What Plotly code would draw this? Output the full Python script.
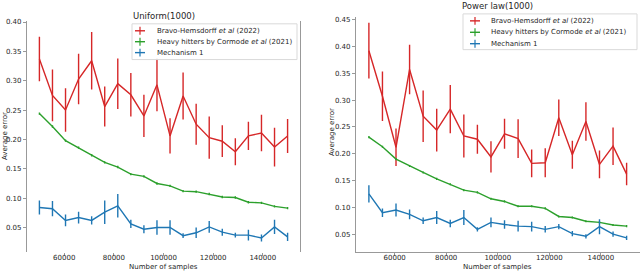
import plotly.graph_objects as go

W, H = 640, 271

# ---------------- data ----------------
samples = [50000, 55263, 60526, 65789, 71053, 76316, 81579, 86842, 92105, 97368,
           102632, 107895, 113158, 118421, 123684, 128947, 134211, 139474, 144737, 150000]

series_names = ["Bravo-Hemsdorff <i>et al</i> (2022)",
                "Heavy hitters by Cormode <i>et al</i> (2021)",
                "Mechanism 1"]
series_colors = ["#d62728", "#2ca02c", "#1f77b4"]

panel_titles = ["Uniform(1000)", "Power law(1000)"]
x_title = "Number of samples"
y_title = "Average error"

x_ticks = [60000, 80000, 100000, 120000, 140000]
y_ticks_uniform = [0.05, 0.10, 0.15, 0.20, 0.25, 0.30, 0.35, 0.40]
y_ticks_power = [0.05, 0.10, 0.15, 0.20, 0.25, 0.30, 0.35, 0.40, 0.45]

# Uniform(1000)
uni_bravo = [0.337, 0.275, 0.250, 0.303, 0.334, 0.256, 0.295, 0.276, 0.240, 0.293,
             0.206, 0.274, 0.226, 0.203, 0.197, 0.179, 0.206, 0.211, 0.187, 0.206]
uni_bravo_err = [0.038, 0.044, 0.037, 0.043, 0.049, 0.034, 0.043, 0.037, 0.036, 0.045,
                 0.030, 0.040, 0.035, 0.036, 0.027, 0.023, 0.024, 0.031, 0.033, 0.029]
uni_heavy = [0.244, 0.222, 0.198, 0.186, 0.173, 0.161, 0.153, 0.141, 0.137, 0.125,
             0.121, 0.112, 0.111, 0.107, 0.102, 0.101, 0.093, 0.092, 0.086, 0.083]
uni_heavy_err = [0.002, 0.002, 0.002, 0.002, 0.002, 0.002, 0.002, 0.002, 0.002, 0.002,
                 0.002, 0.002, 0.002, 0.002, 0.002, 0.002, 0.002, 0.002, 0.002, 0.002]
uni_mech = [0.084, 0.082, 0.062, 0.067, 0.062, 0.076, 0.087, 0.056, 0.047, 0.050,
            0.050, 0.036, 0.041, 0.051, 0.042, 0.037, 0.037, 0.032, 0.051, 0.034]
uni_mech_err = [0.012, 0.013, 0.010, 0.010, 0.007, 0.020, 0.020, 0.007, 0.007, 0.0125,
                0.0125, 0.004, 0.009, 0.010, 0.006, 0.004, 0.009, 0.006, 0.012, 0.007]

# Power law(1000)
pow_bravo = [0.392, 0.307, 0.212, 0.357, 0.270, 0.244, 0.283, 0.233, 0.227, 0.194,
             0.237, 0.228, 0.182, 0.183, 0.267, 0.198, 0.260, 0.180, 0.214, 0.162]
pow_bravo_err = [0.052, 0.046, 0.035, 0.046, 0.048, 0.040, 0.045, 0.040, 0.027, 0.029,
                 0.028, 0.036, 0.026, 0.027, 0.034, 0.026, 0.036, 0.026, 0.035, 0.021]
pow_heavy = [0.231, 0.213, 0.190, 0.177, 0.165, 0.153, 0.143, 0.132, 0.128, 0.116,
             0.111, 0.102, 0.102, 0.098, 0.083, 0.081, 0.074, 0.072, 0.067, 0.065]
pow_heavy_err = [0.002, 0.002, 0.002, 0.002, 0.002, 0.002, 0.002, 0.002, 0.002, 0.002,
                 0.002, 0.002, 0.002, 0.002, 0.002, 0.002, 0.002, 0.002, 0.002, 0.002]
pow_mech = [0.125, 0.090, 0.095, 0.087, 0.075, 0.081, 0.070, 0.081, 0.059, 0.072,
            0.068, 0.065, 0.064, 0.059, 0.064, 0.051, 0.046, 0.064, 0.050, 0.043]
pow_mech_err = [0.016, 0.008, 0.012, 0.009, 0.006, 0.012, 0.007, 0.014, 0.004, 0.009,
                0.008, 0.010, 0.009, 0.006, 0.005, 0.005, 0.004, 0.014, 0.005, 0.004]

panels = [
    ([uni_bravo, uni_heavy, uni_mech], [uni_bravo_err, uni_heavy_err, uni_mech_err]),
    ([pow_bravo, pow_heavy, pow_mech], [pow_bravo_err, pow_heavy_err, pow_mech_err]),
]

# ---------------- layout helpers (pixels -> paper) ----------------
def px(x):
    return x / W

def py(y):
    return 1 - y / H

FONT = "DejaVu Sans"
TXT = "#262626"
SPINE = "#999999"

fig = go.Figure()

for p, (vals, errs) in enumerate(panels):
    xa = "x" if p == 0 else "x2"
    ya = "y" if p == 0 else "y2"
    for name, color, v, e in zip(series_names, series_colors, vals, errs):
        fig.add_trace(go.Scatter(
            x=samples, y=v, name=name, mode="lines",
            line=dict(color=color, width=1.4),
            error_y=dict(type="data", array=e, visible=True, color=color,
                         thickness=1.4, width=0),
            xaxis=xa, yaxis=ya, showlegend=False,
        ))

axis_common = dict(showgrid=False, zeroline=False, ticks="outside", ticklen=3,
                   tickwidth=1, tickcolor=SPINE,
                   tickfont=dict(family=FONT, size=7, color=TXT))

fig.update_layout(
    width=W, height=H,
    margin=dict(l=0, r=0, t=0, b=0),
    paper_bgcolor="white", plot_bgcolor="white",
    font=dict(family=FONT, size=7, color=TXT),
    xaxis=dict(domain=[px(27), px(300)], range=[45000, 155000], tickvals=x_ticks,
               ticktext=[str(t) for t in x_ticks], showline=False, anchor="y",
               ticklabelstandoff=-5, **axis_common),
    yaxis=dict(domain=[py(252), py(19)], range=[0.008, 0.402], tickvals=y_ticks_uniform,
               ticktext=["%.2f" % t for t in y_ticks_uniform], showline=True,
               linecolor=SPINE, linewidth=1.2, mirror=True, anchor="x",
               **axis_common),
    xaxis2=dict(domain=[px(356), px(639.5)], range=[45000, 155000], tickvals=x_ticks,
                ticktext=[str(t) for t in x_ticks], showline=True,
                linecolor=SPINE, linewidth=1.2, anchor="y2",
                ticklabelstandoff=-5, **axis_common),
    yaxis2=dict(domain=[py(252), py(15)], range=[0.0165, 0.455], tickvals=y_ticks_power,
                ticktext=["%.2f" % t for t in y_ticks_power], showline=True,
                linecolor=SPINE, linewidth=1.2, mirror=False, anchor="x2",
                **axis_common),
)

annotations = []
shapes = []

# titles and axis titles
title_pos = [(163.5, 14), (497.5, 4)]
ylab_pos = [(5, 135), (332, 131)]
xlab_pos = [(163.5, 266.5), (497.5, 266.5)]
for t, (tx, ty), (yx, yy), (xx, xy) in zip(panel_titles, title_pos, ylab_pos, xlab_pos):
    annotations.append(dict(text=t, x=px(tx), y=py(ty), xref="paper", yref="paper",
                            showarrow=False, xanchor="center", yanchor="middle",
                            font=dict(family=FONT, size=8.5, color=TXT)))
    annotations.append(dict(text=y_title, x=px(yx), y=py(yy), xref="paper", yref="paper",
                            showarrow=False, xanchor="center", yanchor="middle", textangle=-90,
                            font=dict(family=FONT, size=7, color=TXT)))
    annotations.append(dict(text=x_title, x=px(xx), y=py(xy), xref="paper", yref="paper",
                            showarrow=False, xanchor="center", yanchor="middle",
                            font=dict(family=FONT, size=7, color=TXT)))

# legends (matplotlib-style compact boxes)
legend_boxes = [
    dict(box=(132, 22, 297, 58), rows=(29, 40, 51), lx=(135, 145), tx=155),
    dict(box=(463, 12, 637, 48), rows=(19, 30.5, 42), lx=(470, 480), tx=489),
]
for lg in legend_boxes:
    x0, y0, x1, y1 = lg["box"]
    shapes.append(dict(type="rect", xref="paper", yref="paper",
                       x0=px(x0), x1=px(x1), y0=py(y1), y1=py(y0),
                       line=dict(color="#d9d9d9", width=1),
                       fillcolor="rgba(255,255,255,0.85)", layer="above"))
    for name, color, ry in zip(series_names, series_colors, lg["rows"]):
        a, b = lg["lx"]
        shapes.append(dict(type="line", xref="paper", yref="paper",
                           x0=px(a), x1=px(b), y0=py(ry), y1=py(ry),
                           line=dict(color=color, width=1.4), layer="above"))
        shapes.append(dict(type="line", xref="paper", yref="paper",
                           x0=px((a + b) / 2), x1=px((a + b) / 2), y0=py(ry - 4), y1=py(ry + 4),
                           line=dict(color=color, width=1.2), layer="above"))
        annotations.append(dict(text=name, x=px(lg["tx"]), y=py(ry), xref="paper", yref="paper",
                                showarrow=False, xanchor="left", yanchor="middle",
                                font=dict(family=FONT, size=7, color=TXT)))

fig.update_layout(annotations=annotations, shapes=shapes)

fig.write_html("out.html",
               config={"displayModeBar": False},
               post_script="document.body.style.margin='0';document.body.style.overflow='hidden';")
